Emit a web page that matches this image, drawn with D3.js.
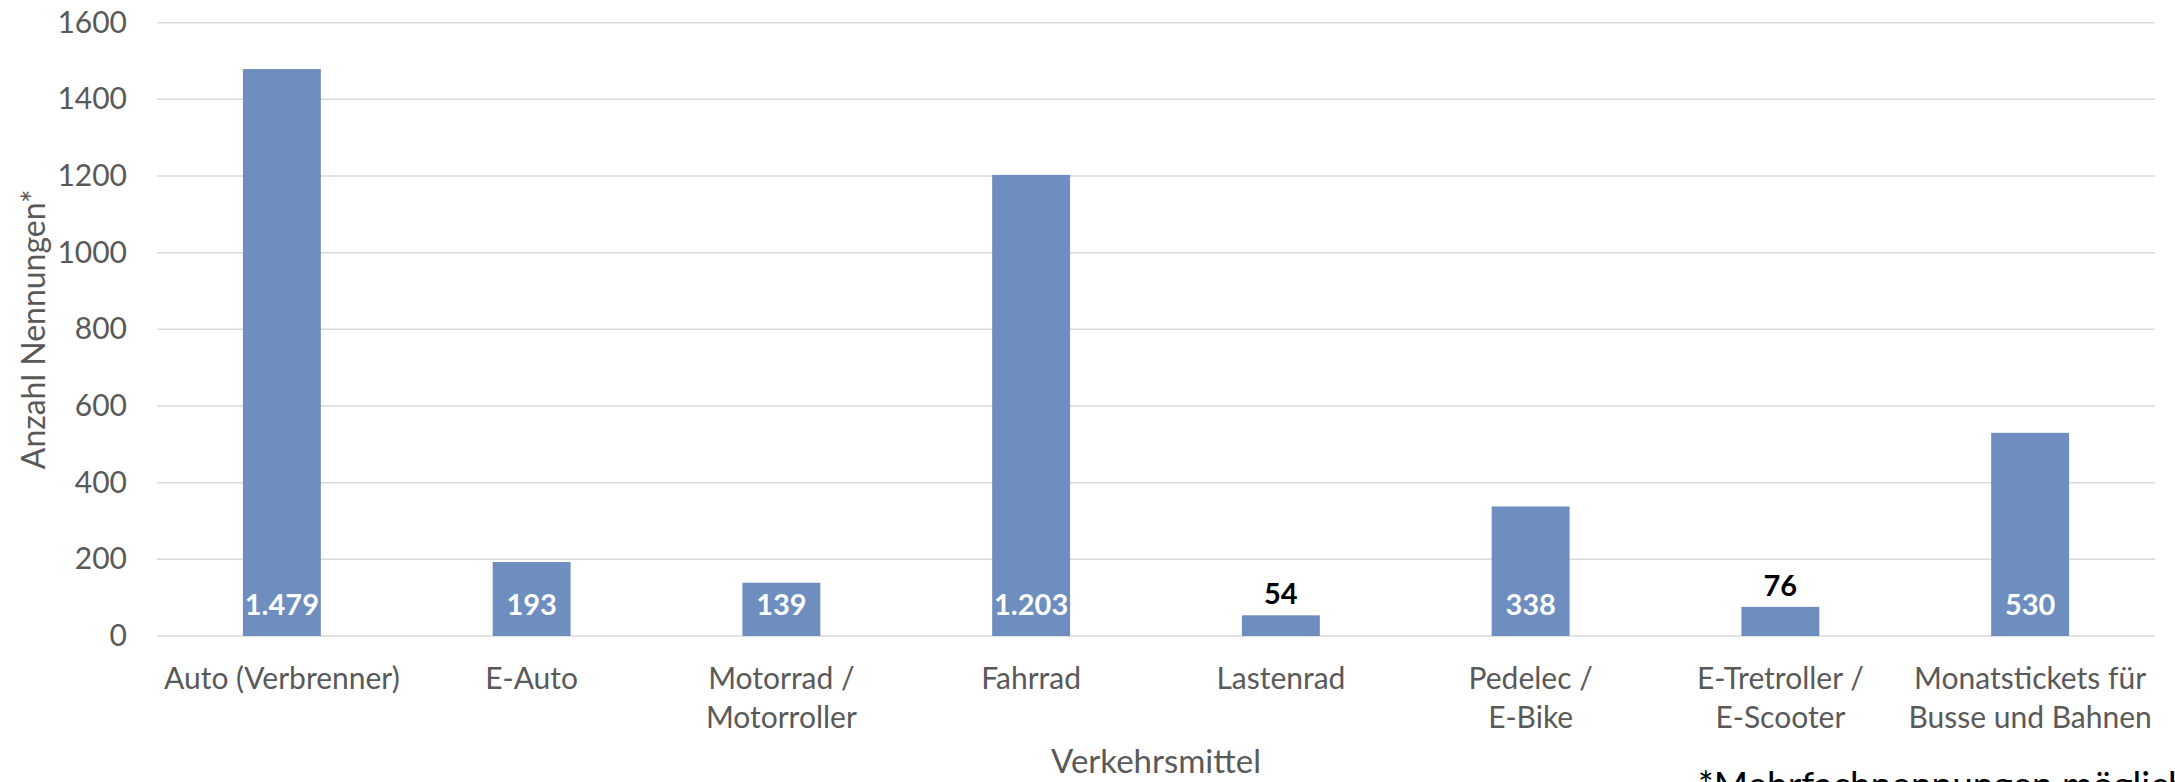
<!DOCTYPE html>
<html>
<head>
<meta charset="utf-8">
<script src="https://cdn.jsdelivr.net/npm/d3@7"></script>
<style>
  body { margin: 0; background: #fff; }
  text { font-family: Lato, "Open Sans", sans-serif; }
</style>
</head>
<body>
<div id="chart"></div>
<script>
// categories (line breaks as in the original axis)
const categories = [
  ["Auto (Verbrenner)"],
  ["E-Auto"],
  ["Motorrad /", "Motorroller"],
  ["Fahrrad"],
  ["Lastenrad"],
  ["Pedelec /", "E-Bike"],
  ["E-Tretroller /", "E-Scooter"],
  ["Monatstickets für", "Busse und Bahnen"]
];
const values = [1479, 193, 139, 1203, 54, 338, 76, 530];
const yTicks = [0, 200, 400, 600, 800, 1000, 1200, 1400, 1600];
const yTitle = "Anzahl Nennungen*";
const xTitle = "Verkehrsmittel";
const footnote = "*Mehrfachnennungen möglich";

const width = 2175;
const height = 782;
const margin = {top: 22.7, left: 157, right: 20, bottom: 146};

const svg = d3.select("#chart")
  .append("svg")
  .attr("width", width)
  .attr("height", height);

const keys = categories.map(function(c) { return c.join(" "); });

const xScale = d3.scaleBand()
  .domain(keys)
  .range([margin.left, 2155])
  .paddingInner(0.688)
  .paddingOuter(0.344);

const yScale = d3.scaleLinear()
  .domain([0, 1600])
  .range([636, margin.top]);

// gridlines
svg.selectAll("line.grid")
  .data(yTicks)
  .enter()
  .append("line")
  .attr("class", "grid")
  .attr("x1", margin.left)
  .attr("x2", 2155)
  .attr("y1", function(d) { return yScale(d); })
  .attr("y2", function(d) { return yScale(d); })
  .attr("stroke", "#d9d9d9")
  .attr("stroke-width", 1.5);

// y axis labels
const yAxis = d3.axisLeft(yScale)
  .tickValues(yTicks)
  .tickFormat(d3.format("d"))
  .tickSize(0)
  .tickPadding(30);
const yg = svg.append("g")
  .attr("transform", `translate(${margin.left},0)`)
  .call(yAxis);
yg.select(".domain").remove();
yg.selectAll("text")
  .attr("font-size", 30)
  .attr("fill", "#595959")
  .style("font-family", "Lato, sans-serif");

// bars
svg.selectAll("rect.bar")
  .data(values)
  .enter()
  .append("rect")
  .attr("class", "bar")
  .attr("x", function(d, i) { return xScale(keys[i]); })
  .attr("y", function(d) { return yScale(d); })
  .attr("width", xScale.bandwidth())
  .attr("height", function(d) { return yScale(0) - yScale(d); })
  .attr("fill", "#6d8ebf");

// value labels: inside base when the bar is tall enough, else above
const fmt = function(v) { return d3.format(",")(v).replace(/,/g, "."); };
const inside = function(d) { return (yScale(0) - yScale(d)) > 40; };
svg.selectAll("text.val")
  .data(values)
  .enter()
  .append("text")
  .attr("class", "val")
  .attr("x", function(d, i) { return xScale(keys[i]) + xScale.bandwidth() / 2; })
  .attr("y", function(d) { return inside(d) ? yScale(0) - 21 : yScale(d) - 11; })
  .attr("text-anchor", "middle")
  .attr("font-size", 29)
  .attr("font-weight", "bold")
  .attr("fill", function(d) { return inside(d) ? "#ffffff" : "#000000"; })
  .text(fmt);

// category labels
const xl = svg.selectAll("text.cat")
  .data(categories)
  .enter()
  .append("text")
  .attr("class", "cat")
  .attr("x", function(d, i) { return xScale(keys[i]) + xScale.bandwidth() / 2; })
  .attr("y", 689)
  .attr("text-anchor", "middle")
  .attr("font-size", 30)
  .attr("fill", "#595959");
xl.selectAll("tspan")
  .data(function(d) { return d; })
  .enter()
  .append("tspan")
  .attr("x", function() { return d3.select(this.parentNode).attr("x"); })
  .attr("dy", function(d, i) { return i === 0 ? 0 : 39; })
  .text(function(d) { return d; });

// axis titles
svg.append("text")
  .attr("x", (margin.left + 2155) / 2)
  .attr("y", 773)
  .attr("text-anchor", "middle")
  .attr("font-size", 33)
  .attr("fill", "#595959")
  .text(xTitle);

svg.append("text")
  .attr("transform", `translate(45, ${(yScale(0) + yScale(1600)) / 2}) rotate(-90)`)
  .attr("text-anchor", "middle")
  .attr("font-size", 32)
  .attr("fill", "#595959")
  .text(yTitle);

// footnote, cut by the bottom edge like in the original
svg.append("text")
  .attr("x", 1698)
  .attr("y", 798)
  .attr("font-size", 37)
  .attr("fill", "#000000")
  .text(footnote);
</script>
</body>
</html>
